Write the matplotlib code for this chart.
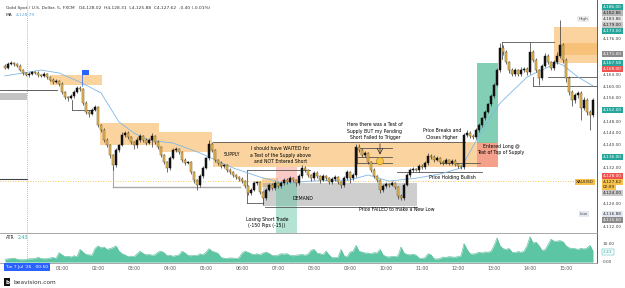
import numpy as np
import matplotlib.pyplot as plt
import matplotlib.transforms as mtransforms
from matplotlib.patches import Rectangle, Circle

# ---- data (5 min XAUUSD bars) ----
first_open = 4166.8
closes = [
    4166.1, 4167.5, 4167.8, 4167.5, 4166.8, 4165.4, 4164.4, 4163.7, 4164.0, 4164.7,
    4164.4, 4163.7, 4163.4, 4164.0, 4163.0, 4162.0, 4161.3, 4161.7, 4160.6, 4157.9,
    4156.2, 4155.9, 4156.5, 4157.9, 4159.3, 4158.9, 4154.1, 4151.1, 4150.4, 4151.8,
    4152.8, 4146.6, 4144.9, 4141.5, 4139.8, 4136.4, 4133.0, 4138.1, 4139.8, 4143.2,
    4143.9, 4142.5, 4140.8, 4139.8, 4141.5, 4142.9, 4141.5, 4140.5, 4141.5, 4142.9,
    4140.8, 4139.1, 4136.4, 4134.0, 4132.0, 4135.4, 4138.1, 4138.4, 4137.4, 4134.7,
    4133.7, 4134.0, 4130.6, 4127.9, 4126.2, 4129.2, 4132.0, 4135.4, 4140.2, 4138.1,
    4134.7, 4133.7, 4132.6, 4133.0, 4131.3, 4130.6, 4129.6, 4128.9, 4128.2, 4127.5,
    4125.8, 4123.4, 4124.5, 4126.8, 4127.2, 4123.8, 4121.7, 4124.5, 4126.2, 4125.1,
    4126.8, 4125.8, 4126.8, 4127.9, 4127.2, 4128.5, 4127.9, 4126.8, 4129.2, 4132.0,
    4131.3, 4129.6, 4128.5, 4130.3, 4129.2, 4127.9, 4129.2, 4128.5, 4127.2, 4128.2,
    4128.9, 4127.2, 4126.2, 4128.5, 4130.6, 4128.5, 4129.6, 4139.1, 4138.1, 4136.4,
    4137.1, 4134.0, 4131.3, 4129.2, 4127.9, 4124.5, 4125.8, 4126.5, 4126.2, 4126.8,
    4125.5, 4122.4, 4121.7, 4126.2, 4129.6, 4131.3, 4131.6, 4131.3, 4132.6, 4132.3,
    4133.7, 4136.0, 4135.7, 4134.7, 4135.4, 4134.0, 4133.7, 4134.7, 4133.7, 4134.4,
    4133.3, 4132.6, 4132.3, 4143.2, 4143.9, 4142.9, 4142.5, 4144.9, 4146.6, 4149.0,
    4151.1, 4153.8, 4156.5, 4160.3, 4165.4, 4172.9, 4171.5, 4168.1, 4165.4, 4164.0,
    4165.4, 4164.0, 4165.4, 4165.8, 4164.7, 4171.5, 4168.8, 4165.4, 4162.7, 4166.8,
    4170.2, 4168.1, 4166.1, 4168.1, 4170.2, 4173.9, 4168.8, 4162.7, 4157.9, 4155.2,
    4156.9, 4157.6, 4152.4, 4155.2, 4151.1, 4150.1, 4155.2,
]
upper_wick = [
    0.5, 0.6, 0.8, 0.5, 0.4, 0.6, 0.5, 0.4, 0.6, 0.5,
    0.4, 0.6, 0.5, 0.7, 0.4, 0.5, 0.6, 0.5, 0.4, 0.6,
    0.5, 0.4, 0.7, 0.6, 0.8, 0.5, 0.4, 0.6, 0.5, 0.7,
    0.6, 0.5, 0.4, 0.8, 0.6, 0.5, 0.4, 0.7, 0.5, 1.0,
    0.8, 0.6, 0.5, 0.4, 0.9, 0.8, 0.5, 0.6, 0.7, 0.9,
    0.5, 0.6, 0.4, 0.5, 0.4, 0.7, 0.6, 0.8, 0.5, 0.4,
    0.6, 0.5, 0.4, 0.5, 0.4, 0.6, 0.7, 0.5, 1.3, 0.6,
    0.5, 0.4, 0.6, 0.5, 0.4, 0.6, 0.5, 0.4, 0.5, 0.6,
    0.4, 0.5, 0.6, 0.7, 0.5, 0.4, 0.5, 0.8, 0.6, 0.5,
    0.7, 0.5, 0.6, 0.8, 0.5, 0.6, 0.5, 0.4, 0.7, 0.9,
    0.6, 0.5, 0.4, 0.7, 0.5, 0.4, 0.6, 0.5, 0.4, 0.6,
    0.7, 0.5, 0.4, 0.6, 0.8, 0.5, 0.6, 1.0, 1.2, 0.7,
    0.8, 0.5, 0.4, 0.6, 0.5, 0.4, 0.6, 0.7, 0.5, 0.6,
    0.5, 0.4, 0.6, 0.7, 0.8, 0.6, 0.7, 0.5, 0.9, 0.6,
    0.8, 1.0, 0.9, 0.6, 0.8, 0.5, 0.6, 0.7, 0.5, 0.6,
    0.5, 0.4, 0.5, 0.6, 0.9, 0.7, 0.8, 0.6, 0.7, 0.5,
    0.6, 0.5, 0.7, 0.6, 0.8, 1.7, 1.0, 0.6, 0.5, 0.7,
    0.8, 0.5, 0.9, 0.6, 0.5, 3.5, 0.8, 0.6, 0.5, 0.7,
    1.0, 0.6, 0.5, 0.8, 1.2, 8.6, 0.8, 0.6, 0.5, 0.7,
    0.8, 0.6, 0.5, 0.9, 0.6, 0.5, 0.8,
]
lower_wick = [
    0.5, 0.4, 0.5, 0.6, 0.5, 0.4, 0.6, 0.5, 0.7, 0.4,
    0.5, 0.6, 0.5, 0.4, 0.6, 0.5, 0.7, 0.4, 0.6, 0.8,
    0.7, 0.9, 0.5, 0.6, 0.4, 0.5, 0.6, 0.8, 1.0, 0.5,
    0.4, 0.6, 0.7, 0.8, 0.6, 0.9, 1.7, 0.6, 0.5, 0.4,
    0.6, 0.7, 0.8, 1.2, 0.9, 0.5, 0.6, 0.7, 0.5, 2.5,
    0.6, 0.5, 0.8, 0.7, 1.4, 0.6, 0.5, 0.7, 0.6, 0.8,
    0.6, 0.5, 0.7, 0.9, 1.7, 0.6, 0.5, 0.4, 0.6, 0.5,
    0.6, 0.7, 0.5, 0.6, 0.8, 0.5, 0.6, 0.7, 0.5, 0.6,
    0.7, 0.8, 0.6, 0.5, 0.7, 0.8, 2.4, 0.6, 0.5, 0.7,
    0.6, 0.7, 0.5, 0.6, 0.8, 0.5, 0.7, 0.8, 0.6, 0.5,
    0.7, 0.6, 0.8, 0.5, 0.6, 0.9, 0.5, 0.7, 0.8, 0.6,
    0.5, 0.7, 0.9, 0.6, 0.5, 1.5, 0.7, 0.6, 0.5, 0.8,
    0.6, 0.5, 0.7, 0.8, 0.6, 1.2, 0.7, 0.6, 0.8, 0.5,
    0.7, 0.9, 0.6, 0.8, 0.5, 0.6, 0.7, 0.5, 0.6, 0.7,
    0.5, 0.6, 0.8, 0.7, 0.5, 0.6, 0.8, 0.5, 0.7, 0.6,
    0.5, 0.7, 0.8, 0.5, 0.6, 0.7, 0.5, 0.6, 0.8, 0.5,
    0.6, 0.5, 0.7, 0.6, 0.5, 0.6, 0.8, 0.7, 0.9, 0.6,
    0.7, 0.5, 0.8, 0.6, 0.9, 0.5, 0.7, 0.8, 2.5, 0.6,
    0.5, 0.7, 0.6, 0.8, 0.5, 0.6, 0.9, 1.5, 1.0, 2.0,
    0.9, 1.2, 4.0, 0.8, 1.0, 5.2, 0.7,
]
atr = [
    1.5, 1.8, 2.0, 2.2, 1.6, 1.3, 1.3, 1.4, 1.8, 1.8,
    2.0, 2.6, 2.0, 1.8, 1.9, 2.2, 2.6, 2.0, 5.2, 4.0,
    3.0, 3.2, 2.8, 3.5, 3.0, 7.0, 5.5, 4.2, 4.0, 3.8,
    7.5, 8.9, 7.8, 8.3, 7.0, 7.4, 8.0, 8.9, 6.0, 4.6,
    4.0, 3.0, 3.3, 3.0, 4.5, 6.0, 4.8, 4.0, 4.2, 3.8,
    4.0, 5.5, 6.0, 5.2, 3.5, 3.8, 3.2, 3.6, 4.0, 6.0,
    5.0, 3.7, 3.5, 3.8, 3.6, 4.6, 4.0, 5.5, 7.4, 6.0,
    5.5, 4.8, 2.5, 2.2, 2.0, 2.3, 2.2, 2.0, 2.4, 5.0,
    6.0, 5.4, 4.6, 4.2, 4.6, 4.0, 5.0, 5.5, 4.8, 3.7,
    3.5, 3.8, 4.6, 4.4, 4.6, 3.7, 3.5, 3.8, 4.0, 4.2,
    3.8, 4.4, 6.5, 7.0, 5.0, 4.6, 4.2, 6.0, 4.0, 2.4,
    2.5, 2.6, 7.0, 3.5, 2.8, 5.5, 6.0, 9.2, 6.0, 5.5,
    5.0, 5.0, 4.6, 5.2, 5.0, 7.0, 4.0, 3.0, 2.8, 3.2,
    3.0, 3.5, 8.3, 5.0, 4.2, 4.0, 4.4, 3.8, 2.2, 2.0,
    2.4, 4.6, 4.0, 1.8, 1.7, 2.0, 2.8, 2.6, 3.0, 2.8,
    2.7, 3.0, 3.5, 10.2, 7.0, 4.6, 4.4, 4.8, 5.5, 5.0,
    5.6, 5.4, 6.0, 9.0, 13.3, 9.0, 7.4, 7.0, 7.5, 5.5,
    5.2, 5.8, 5.4, 6.0, 9.0, 13.9, 10.5, 11.0, 9.0, 6.5,
    6.8, 9.5, 12.6, 11.5, 11.5, 11.8, 11.2, 9.0, 7.8, 7.6,
    7.4, 7.0, 7.6, 7.2, 7.8, 9.2, 6.0,
]
# moving average as drawn (bar index, value)
ma_bar = [0, 12, 18, 25, 32, 38, 43, 48, 56, 65, 76, 85, 93, 102, 115, 121, 128,
          137, 145, 152, 159, 165, 174, 181, 184, 186, 191, 196]
ma_val = [4163.4, 4165.4, 4164.4, 4161.3, 4157.6, 4147.7, 4143.9, 4141.5, 4140.5,
          4137.1, 4132.0, 4128.9, 4126.8, 4127.5, 4127.9, 4129.6, 4127.5, 4128.5,
          4129.9, 4132.0, 4144.9, 4154.1, 4163.0, 4166.4, 4167.8, 4167.1, 4163.0, 4160.0]
hour_labels = ['01:00', '02:00', '03:00', '04:00', '05:00', '06:00', '07:00', '08:00',
               '09:00', '10:00', '11:00', '12:00', '13:00', '14:00', '15:00']

closes = np.array(closes)
opens = np.concatenate([[first_open], closes[:-1]])
highs = np.maximum(opens, closes) + np.array(upper_wick)
lows = np.minimum(opens, closes) - np.array(lower_wick)
idx = np.arange(len(closes))

ORANGE = '#F7A840'
XMIN, XMAX = -1.67, 197.33

fig = plt.figure(figsize=(6.25, 2.88), dpi=100)
ax = fig.add_axes([0, 1 - 233 / 288, 597 / 625, 233 / 288])
axa = fig.add_axes([0, 1 - 263 / 288, 597 / 625, 30 / 288])

for a in (ax, axa):
    a.set_xlim(XMIN, XMAX)
    for s in ('left', 'top', 'bottom'):
        a.spines[s].set_visible(False)
    a.spines['right'].set_color('#444444')
    a.spines['right'].set_linewidth(0.6)
ax.set_ylim(4109.8, 4189.3)
ax.set_xticks([])
ax.set_yticks([])


def zone(b0, b1, p0, p1, color=ORANGE, alpha=0.5, z=1):
    ax.add_patch(Rectangle((b0, p0), b1 - b0, p1 - p0, facecolor=color,
                           edgecolor='none', alpha=alpha, zorder=z))


def hline(b0, b1, p, color='#555555', lw=0.6):
    ax.plot([b0, b1], [p, p], color=color, lw=lw, zorder=2)


def vline(b, p0, p1, color='#555555', lw=0.6):
    ax.plot([b, b], [p0, p1], color=color, lw=lw, zorder=2)


# supply / demand zones
zone(15, 32.3, 4160.3, 4163.7)
zone(31.7, 51.3, 4139.8, 4147.3)
zone(51.3, 69, 4137.4, 4144.2)
zone(69.3, 164.3, 4132.3, 4140.8)
zone(85.7, 91, 4125.5, 4128.5)
zone(183, XMAX, 4167.8, 4180.1)
zone(185, XMAX, 4170.5, 4174.6, alpha=0.4)
zone(86, 137.3, 4119.0, 4126.8, color='#9E9E9E', alpha=0.5)
zone(XMIN, 7.3, 4155.2, 4157.6, color='#9E9E9E', alpha=0.6)
# short trade (losing) and long trade
zone(90.3, 97.3, 4127.2, 4132.3, color='#F28B82', alpha=0.45)
zone(90.3, 97.3, 4109.8, 4127.2, color='#5ABF9E', alpha=0.45)
zone(157.3, 164.3, 4140.5, 4167.8, color='#5ABF9E', alpha=0.75)
zone(157.3, 164.3, 4132.3, 4140.5, color='#F28B82', alpha=0.7)

# horizontal level drawings
hline(XMIN, 17.3, 4158.6, '#444444')
hline(XMIN, 7.3, 4128.2, '#444444', 0.8)
hline(22.3, 29.3, 4151.8)
vline(22.3, 4151.8, 4155.2)
hline(36, 78.3, 4125.5, '#A8A8A8', 1.0)
vline(36, 4125.5, 4132.3, '#A8A8A8', 0.8)
hline(69.3, 153.3, 4140.8)
hline(80.7, 101.7, 4131.3)
vline(80.7, 4120.0, 4131.3)
hline(80.7, 86, 4120.0)
hline(86.7, 137.3, 4118.6)
hline(117.3, 129, 4138.8)
hline(117.3, 129, 4135.7)
hline(117.3, 129, 4133.7)
vline(117.3, 4133.7, 4138.8)
hline(130.7, 159, 4130.6)
hline(145, 158.3, 4133.7)
hline(165.7, 183, 4175.0)
vline(165.7, 4169.2, 4175.0)
hline(181, XMAX, 4163.0)
hline(176, XMAX, 4160.0)
vline(176, 4160.0, 4163.0)

# current price line and crosshair
ax.axhline(4127.62, color='#E8B830', lw=0.6, ls=(0, (1, 2)), zorder=2)
for a in (ax, axa):
    a.axvline(7.3, color='#8FA8E0', lw=0.6, ls=(0, (1, 1.5)), zorder=2)

# moving average
ax.plot(ma_bar, ma_val, color='#7FB8E6', lw=0.6, zorder=2.5)

# candles
up = closes >= opens
body_lo = np.minimum(opens, closes)
body_h = np.maximum(np.abs(closes - opens), 0.35)
ax.vlines(idx, lows, highs, color='#333333', lw=0.5, zorder=3)
ax.bar(idx, body_h, bottom=body_lo, width=0.78,
       color=np.where(up, '#111111', '#F0BE55'),
       edgecolor=np.where(up, '#111111', '#6B5622'), lw=0.35, zorder=4)

# flag marker
ax.plot([25.7, 25.7], [4159.9, 4165.4], color='#2962FF', lw=0.5, zorder=5)
ax.add_patch(Rectangle((25.7, 4163.6), 2.2, 1.9, facecolor='#2962FF', zorder=5))

# test-of-supply marker
ax.add_patch(Circle((125, 4134.3), 1.2, facecolor='#F6C64A', edgecolor='#B8860B',
                    lw=0.4, zorder=5))
ax.annotate('', xy=(125, 4135.6), xytext=(125, 4141.2),
            arrowprops=dict(arrowstyle='->', lw=0.5, color='#222222'), zorder=5)

# annotations
fs = 3.3
ax.text(75.7, 4136.7, 'SUPPLY', fontsize=fs, ha='center', va='center', zorder=6)
ax.text(91.7, 4136.4, 'I should have WAITED for\na Test of the Supply above\nand NOT Entered Short',
        fontsize=fs, ha='center', va='center', linespacing=1.3, zorder=6)
ax.text(123.3, 4144.6, 'Here there was a Test of\nSupply BUT my Pending\nShort Failed to Trigger',
        fontsize=fs, ha='center', va='center', linespacing=1.3, zorder=6)
ax.text(99.3, 4121.7, 'DEMAND', fontsize=fs, ha='center', va='center', zorder=6)
ax.text(130.7, 4117.9, 'Price FAILED to make a New Low', fontsize=fs, ha='center',
        va='center', zorder=6)
ax.text(87.3, 4113.5, 'Losing Short Trade\n(-150 Pips (-15))', fontsize=fs,
        ha='center', va='center', linespacing=1.3, zorder=6)
ax.text(145.7, 4143.6, 'Price Breaks and\nCloses Higher', fontsize=fs, ha='center',
        va='center', linespacing=1.3, zorder=6)
ax.text(165.3, 4138.4, 'Entered Long @\nTest of Top of Supply', fontsize=fs,
        ha='center', va='center', linespacing=1.3, zorder=6)
ax.text(149, 4128.9, 'Price Holding Bullish', fontsize=fs, ha='center',
        va='center', zorder=6)

# price scale labels
tr = mtransforms.blended_transform_factory(ax.transAxes, ax.transData)
price_labels = [
    (4186.9, '4,186.00', '#26A69A', 'white'), (4184.9, '4,182.86', '#B8B8B8', '#222222'),
    (4182.8, '4,183.86', '#E6E6E6', '#333333'), (4180.8, '4,179.00', '#C8C8C8', '#222222'),
    (4178.7, '4,173.00', '#26A69A', 'white'), (4176.0, '4,176.00', None, '#444444'),
    (4170.9, '4,171.00', '#8A8A8A', 'white'), (4167.8, '4,167.58', '#26A69A', 'white'),
    (4165.7, '4,168.00', '#EF5350', 'white'), (4163.7, '4,164.00', None, '#444444'),
    (4159.6, '4,160.00', None, '#444444'), (4155.9, '4,156.00', None, '#444444'),
    (4151.8, '4,152.00', '#26A69A', 'white'), (4147.7, '4,148.00', None, '#444444'),
    (4143.9, '4,144.00', None, '#444444'), (4139.8, '4,140.00', None, '#444444'),
    (4135.7, '4,136.00', '#26A69A', 'white'), (4132.0, '4,132.00', None, '#444444'),
    (4129.2, '4,128.00', '#EF5350', 'white'), (4127.2, '4,127.62', '#F7C04A', '#222222'),
    (4123.4, '4,124.00', '#C8C8C8', '#222222'), (4119.7, '4,120.00', None, '#444444'),
    (4116.3, '4,116.88', '#E3E8F0', '#333333'), (4114.2, '4,115.60', '#8A8A8A', 'white'),
    (4111.8, '4,112.00', None, '#444444'),
]
for p, s, bg, fg in price_labels:
    kw = dict(fontsize=3.1, color=fg, ha='left', va='center', transform=tr, clip_on=False)
    if bg:
        kw['bbox'] = dict(boxstyle='square,pad=0.25', fc=bg, ec='none')
    ax.text(1.01, p, s, **kw)
ax.text(1.01, 4125.4, '02:09', fontsize=3.1, color='#222222', ha='left', va='center',
        transform=tr, clip_on=False,
        bbox=dict(boxstyle='square,pad=0.25', fc='#F7C04A', ec='none'))
ax.text(0.995, 4127.2, 'XAUUSD', fontsize=3.1, color='#222222', ha='right', va='center',
        transform=tr, bbox=dict(boxstyle='square,pad=0.25', fc='#F7C04A', ec='none'))
ax.text(0.985, 4182.8, 'High', fontsize=3.1, color='#555555', ha='right', va='center',
        transform=tr, bbox=dict(boxstyle='square,pad=0.25', fc='#EEEEEE', ec='none'))
ax.text(0.985, 4116.3, 'Low', fontsize=3.1, color='#555555', ha='right', va='center',
        transform=tr, bbox=dict(boxstyle='square,pad=0.25', fc='#E3E8F0', ec='none'))

# ATR panel
axa.fill_between(idx, 0, atr, color='#5CC5A3', lw=0, zorder=2)
axa.plot(idx, atr, color='#4DB894', lw=0.4, zorder=2)
axa.set_ylim(-0.5, 16)
axa.set_yticks([])
for s in ('top', 'bottom'):
    axa.spines[s].set_visible(True)
    axa.spines[s].set_color('#9A9A9A')
    axa.spines[s].set_linewidth(0.6)
axa.set_xticks(19 + 12 * np.arange(len(hour_labels)))
axa.set_xticklabels(hour_labels, fontsize=3.3, color='#555555')
axa.tick_params(axis='x', length=0, pad=2.2)
tra = mtransforms.blended_transform_factory(axa.transAxes, axa.transData)
axa.text(1.01, 10, '10.00', fontsize=3.1, color='#444444', ha='left', va='center',
         transform=tra, clip_on=False)
axa.text(1.01, 5.5, '2.43', fontsize=3.1, color='#26A69A', ha='left', va='center',
         transform=tra, clip_on=False,
         bbox=dict(boxstyle='square,pad=0.25', fc='white', ec='#26A69A', lw=0.3))
axa.text(1.01, 0.2, '0.00', fontsize=3.1, color='#444444', ha='left', va='center',
         transform=tra, clip_on=False)
axa.text(0.01, 0.86, 'ATR', fontsize=3.3, color='#333333', transform=axa.transAxes,
         va='center')
axa.text(0.03, 0.86, '2.43', fontsize=3.3, color='#26A69A', transform=axa.transAxes,
         va='center')
trx = mtransforms.blended_transform_factory(axa.transData, axa.transAxes)
axa.text(7.3, -0.06, "Tue 7 Jul '26   00:50", fontsize=3.2, color='white',
         ha='center', va='top', transform=trx, clip_on=False,
         bbox=dict(boxstyle='square,pad=0.4', fc='#2962FF', ec='none'))

# header
fig.text(6 / 625, 1 - 8 / 288, 'Gold Spot / U.S. Dollar, 5, FXCM   O4,128.02  H4,128.31  '
         'L4,125.88  C4,127.62  -0.40 (-0.01%)', fontsize=3.2, color='#333333', va='center')
fig.text(6 / 625, 1 - 15 / 288, 'MA', fontsize=3.2, color='#333333', va='center')
fig.text(16 / 625, 1 - 15 / 288, '4,128.79', fontsize=3.2, color='#5FA8DC', va='center')

# footer logo
fig.text(5 / 625, 1 - 282 / 288, 'b', fontsize=4, color='white', fontweight='bold',
         va='center', bbox=dict(boxstyle='square,pad=0.2', fc='#111111', ec='none'))
fig.text(13 / 625, 1 - 282 / 288, 'beavision.com', fontsize=4.2, color='#333333',
         va='center')

fig.savefig('out.png', dpi=100, facecolor='white')
